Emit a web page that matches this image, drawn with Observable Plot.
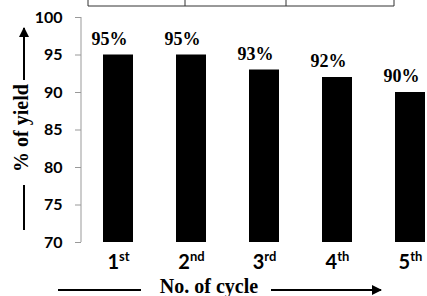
<!DOCTYPE html>
<html><head><meta charset="utf-8">
<script src="https://cdn.jsdelivr.net/npm/d3@7"></script>
<script src="https://cdn.jsdelivr.net/npm/@observablehq/plot@0.6"></script>
<style>
html,body{margin:0;padding:0;background:#fff;}
#chart{position:relative;width:427px;height:296px;overflow:hidden;}
</style></head>
<body><div id="chart"></div>
<script>
const cycles = ["1", "2", "3", "4", "5"];
const suffixes = ["st", "nd", "rd", "th", "th"];
const yields = [95, 95, 93, 92, 90];
const yTicks = [70, 75, 80, 85, 90, 95, 100];

const data = cycles.map((c, i) => ({cycle: c, suffix: suffixes[i], value: yields[i]}));

const chart = Plot.plot({
  width: 427,
  height: 296,
  marginLeft: 81,
  marginRight: 0,
  marginTop: 17,
  marginBottom: 54,
  style: {background: "#fff", overflow: "visible"},
  x: {domain: cycles, range: [81, 446], padding: 0.59, paddingOuter: 0.295},
  y: {domain: [70, 100]},
  marks: [
    Plot.barY(data, {x: "cycle", y1: 70, y2: "value", fill: "#000"}),
    Plot.text(data, {x: "cycle", y: "value", text: d => d.value + "%", dx: -9, dy: -16,
      fontFamily: "Liberation Serif", fontWeight: "bold", fontSize: 18, fill: "#000"}),
    Plot.axisY(yTicks, {tickSize: 6, tickPadding: 13, stroke: "#999", fontSize: 16,
      fontFamily: "Lato", fontWeight: "bold", fill: "#000", label: null}),
    Plot.axisX({tickSize: 0, tickPadding: 12, fontSize: 20, fontFamily: "Lato",
      fontWeight: "bold", fill: "#000", label: null})
  ]
});

const svg = d3.select(chart);
const ys = chart.scale("y");
// y axis line
svg.append("line").attr("x1", 81).attr("x2", 81)
  .attr("y1", ys.apply(100)).attr("y2", ys.apply(70))
  .attr("stroke", "#999").attr("stroke-width", 1);

// superscripts on x tick labels
svg.selectAll('g[aria-label="x-axis tick label"] text').each(function() {
  const t = d3.select(this);
  const c = t.text();
  const idx = cycles.indexOf(c);
  t.text(null);
  t.append("tspan").text(c);
  t.append("tspan").text(suffixes[idx]).attr("font-size", 13).attr("dy", "-0.6em");
});

// arrow marker
const defs = svg.append("defs");
defs.append("marker").attr("id", "arr").attr("viewBox", "0 0 10 10")
  .attr("refX", 9).attr("refY", 5).attr("markerWidth", 5).attr("markerHeight", 5)
  .attr("orient", "auto-start-reverse")
  .append("path").attr("d", "M0,0 L10,5 L0,10 z").attr("fill", "#000");

// x title with arrows
svg.append("text").attr("x", 209).attr("y", 293)
  .attr("text-anchor", "middle").attr("font-family", "Liberation Serif")
  .attr("font-weight", "bold").attr("font-size", 20).text("No. of cycle");
svg.append("line").attr("x1", 58).attr("x2", 141).attr("y1", 290).attr("y2", 290)
  .attr("stroke", "#000").attr("stroke-width", 2);
svg.append("line").attr("x1", 271).attr("x2", 381).attr("y1", 290).attr("y2", 290)
  .attr("stroke", "#000").attr("stroke-width", 2).attr("marker-end", "url(#arr)");

// y title with arrows
svg.append("text").attr("transform", "translate(28,128) rotate(-90)")
  .attr("text-anchor", "middle").attr("font-family", "Liberation Serif")
  .attr("font-weight", "bold").attr("font-size", 20).text("% of yield");
svg.append("line").attr("x1", 24).attr("x2", 24).attr("y1", 230).attr("y2", 185)
  .attr("stroke", "#000").attr("stroke-width", 2);
svg.append("line").attr("x1", 24).attr("x2", 24).attr("y1", 80).attr("y2", 28)
  .attr("stroke", "#000").attr("stroke-width", 2).attr("marker-end", "url(#arr)");

// remnant of table border at top
const tableEdges = [88, 185, 286, 394];
svg.append("line").attr("x1", tableEdges[0]).attr("x2", tableEdges[3]).attr("y1", 6).attr("y2", 6)
  .attr("stroke", "#333").attr("stroke-width", 1);
tableEdges.forEach(x => svg.append("line").attr("x1", x).attr("x2", x).attr("y1", 0).attr("y2", 6)
  .attr("stroke", "#333").attr("stroke-width", 1));

document.getElementById("chart").appendChild(chart);
</script></body></html>
